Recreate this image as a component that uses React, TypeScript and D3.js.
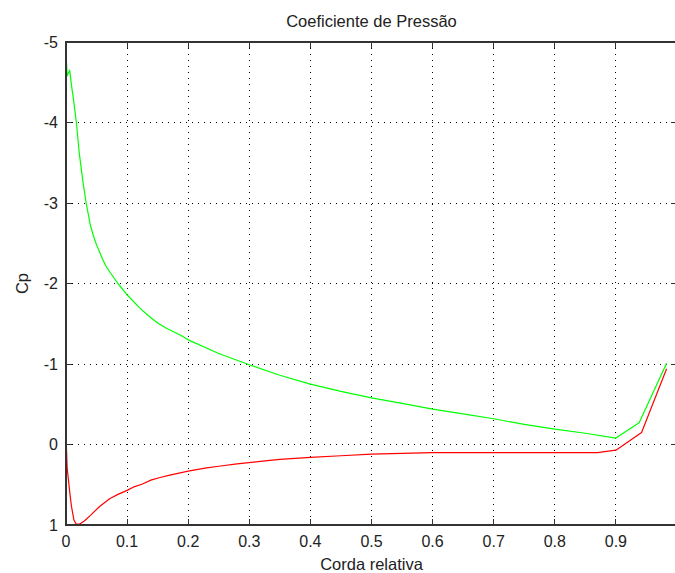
import React from "react";
import * as d3 from "d3";

const upperX = [0, 0.002, 0.006, 0.008, 0.012, 0.017, 0.022, 0.028, 0.033, 0.04, 0.045, 0.05, 0.06, 0.065, 0.072, 0.085, 0.1, 0.12, 0.135, 0.15, 0.165, 0.187, 0.2, 0.25, 0.3, 0.35, 0.4, 0.45, 0.5, 0.55, 0.6, 0.65, 0.7, 0.75, 0.8, 0.85, 0.9, 0.938, 0.983];
const upperCp = [-4.85, -4.58, -4.65, -4.52, -4.3, -4.0, -3.6, -3.25, -3.0, -2.72, -2.59, -2.48, -2.3, -2.22, -2.14, -2.0, -1.86, -1.7, -1.6, -1.51, -1.44, -1.36, -1.3, -1.13, -0.99, -0.86, -0.75, -0.66, -0.58, -0.51, -0.44, -0.38, -0.32, -0.25, -0.19, -0.14, -0.08, -0.27, -1.01];

const lowerX = [0, 0.0005, 0.002, 0.004, 0.007, 0.009, 0.013, 0.017, 0.022, 0.03, 0.04, 0.055, 0.072, 0.085, 0.1, 0.11, 0.125, 0.14, 0.154, 0.17, 0.2, 0.23, 0.25, 0.28, 0.318, 0.35, 0.4, 0.45, 0.5, 0.6, 0.7, 0.8, 0.87, 0.9, 0.942, 0.983];
const lowerCp = [-0.84, 0.0, 0.3, 0.44, 0.65, 0.77, 0.94, 0.99, 0.99, 0.95, 0.88, 0.77, 0.67, 0.62, 0.57, 0.53, 0.49, 0.44, 0.41, 0.38, 0.33, 0.29, 0.27, 0.24, 0.21, 0.185, 0.16, 0.14, 0.12, 0.1, 0.1, 0.1, 0.1, 0.07, -0.15, -0.94];

const xTicks = [0, 0.1, 0.2, 0.3, 0.4, 0.5, 0.6, 0.7, 0.8, 0.9, 1];
const yTicks = [-5, -4, -3, -2, -1, 0, 1];

const title = "Coeficiente de Pressão";
const xLabel = "Corda relativa";
const yLabel = "Cp";

export default function App() {
  const W = 675, H = 573;
  const L = 66, R = 677, T = 42, B = 525;
  const x = d3.scaleLinear().domain([0, 1]).range([L, R]);
  const y = d3.scaleLinear().domain([-5, 1]).range([T, B]);
  const line = d3.line<[number, number]>().x(d => x(d[0])).y(d => y(d[1]));
  const upper = line(upperX.map((v, i) => [v, upperCp[i]] as [number, number]))!;
  const lower = line(lowerX.map((v, i) => [v, lowerCp[i]] as [number, number]))!;
  const font = "'Liberation Sans', Arial, sans-serif";
  const axisColor = "#333";
  const tl = 6;
  return (
    <svg width={W} height={H} style={{ position: "absolute", left: 0, top: 0, background: "#fff" }} fontFamily={font}>
      <rect x={0} y={0} width={W} height={H} fill="#fff" />
      {xTicks.filter(t => t > 0 && t < 1).map(t => (
        <line key={"gx" + t} x1={x(t)} x2={x(t)} y1={T} y2={B} stroke="#000" strokeWidth={1} strokeDasharray="1 5" shapeRendering="crispEdges" />
      ))}
      {yTicks.filter(t => t > -5 && t < 1).map(t => (
        <line key={"gy" + t} x1={L} x2={R} y1={y(t)} y2={y(t)} stroke="#000" strokeWidth={1} strokeDasharray="1 5" shapeRendering="crispEdges" />
      ))}
      <path d={upper} fill="none" stroke="#00ff00" strokeWidth={1.2} strokeLinejoin="round" />
      <path d={lower} fill="none" stroke="#ff0000" strokeWidth={1.2} strokeLinejoin="round" />
      <rect x={L} y={T} width={R - L} height={B - T} fill="none" stroke={axisColor} strokeWidth={1.5} shapeRendering="crispEdges" />
      {xTicks.map(t => (
        <g key={"tx" + t}>
          <line x1={x(t)} x2={x(t)} y1={B} y2={B - tl} stroke={axisColor} shapeRendering="crispEdges" />
          <line x1={x(t)} x2={x(t)} y1={T} y2={T + tl} stroke={axisColor} shapeRendering="crispEdges" />
          {t < 1 && (
            <text x={x(t)} y={547} textAnchor="middle" fontSize={16} fill="#222">{String(t)}</text>
          )}
        </g>
      ))}
      {yTicks.map(t => (
        <g key={"ty" + t}>
          <line x1={L} x2={L + tl} y1={y(t)} y2={y(t)} stroke={axisColor} shapeRendering="crispEdges" />
          <line x1={R} x2={R - tl} y1={y(t)} y2={y(t)} stroke={axisColor} shapeRendering="crispEdges" />
          <text x={58} y={y(t)} dy="0.36em" textAnchor="end" fontSize={16} fill="#222">{String(t)}</text>
        </g>
      ))}
      <text x={(L + R) / 2} y={27} textAnchor="middle" fontSize={16.5} fill="#222">{title}</text>
      <text x={(L + R) / 2} y={570} textAnchor="middle" fontSize={16.5} fill="#222">{xLabel}</text>
      <text transform={`translate(28,${(T + B) / 2}) rotate(-90)`} textAnchor="middle" fontSize={16.5} fill="#222">{yLabel}</text>
    </svg>
  );
}
